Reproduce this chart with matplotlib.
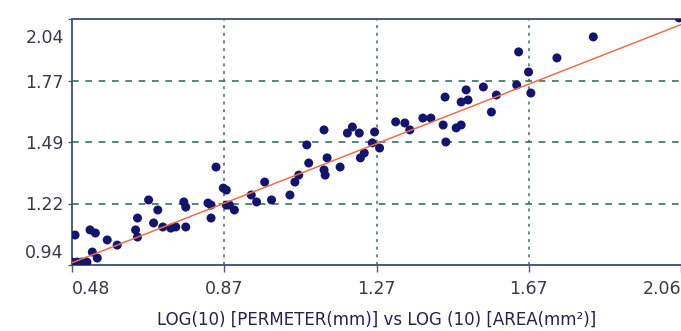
import numpy as np
import matplotlib
matplotlib.use("Agg")
import matplotlib.pyplot as plt
from matplotlib.transforms import ScaledTranslation

# ---- data ----
x_vals = [0.475, 0.488, 0.501, 0.514, 0.483, 0.522, 0.536, 0.528, 0.541, 0.567,
          0.593, 0.646, 0.641, 0.646, 0.675, 0.699, 0.688, 0.712, 0.733, 0.746,
          0.772, 0.767, 0.772, 0.830, 0.838, 0.851, 0.870, 0.878, 0.838, 0.886,
          0.899, 0.878, 0.943, 0.957, 0.978, 0.996, 1.044, 1.057, 1.067, 1.093,
          1.088, 1.133, 1.136, 1.141, 1.175, 1.228, 1.238, 1.278, 1.259, 1.133,
          1.207, 1.194, 1.225, 1.265, 1.320, 1.344, 1.357, 1.391, 1.412, 1.444,
          1.449, 1.451, 1.478, 1.491, 1.491, 1.509, 1.504, 1.549, 1.583, 1.570,
          1.641, 1.667, 1.636, 1.673, 1.741, 1.836, 2.060]
y_vals = [0.958, 0.958, 0.958, 0.958, 1.079, 1.102, 1.088, 1.003, 0.976, 1.057,
          1.034, 1.155, 1.102, 1.070, 1.236, 1.191, 1.133, 1.115, 1.110, 1.115,
          1.115, 1.227, 1.204, 1.222, 1.155, 1.383, 1.289, 1.213, 1.213, 1.213,
          1.191, 1.280, 1.258, 1.227, 1.316, 1.236, 1.258, 1.316, 1.347, 1.401,
          1.482, 1.370, 1.347, 1.424, 1.383, 1.424, 1.446, 1.468, 1.491, 1.549,
          1.562, 1.535, 1.535, 1.540, 1.585, 1.580, 1.549, 1.602, 1.602, 1.571,
          1.696, 1.495, 1.558, 1.571, 1.674, 1.683, 1.728, 1.741, 1.705, 1.629,
          1.898, 1.808, 1.750, 1.714, 1.871, 1.965, 2.050]

fit_x = [0.475, 2.065]
fit_y = [0.955, 2.020]

x_ticks = [0.475, 0.8725, 1.27, 1.6675, 2.065]
x_tick_labels = ["0.48", "0.87", "1.27", "1.67", "2.06"]
y_ticks = [0.945, 1.22, 1.495, 1.77, 2.045]
y_tick_labels = ["0.94", "1.22", "1.49", "1.77", "2.04"]

x_label = "LOG(10) [PERMETER(mm)] vs LOG (10) [AREA(mm²)]"

# ---- figure ----
fig = plt.figure(figsize=(6.81, 3.31), dpi=100)
ax = fig.add_axes([72/681, (331-265)/331, (681-72)/681, (265-19)/331])
ax.set_xlim(x_ticks[0], x_ticks[-1])
ax.set_ylim(y_ticks[0], y_ticks[-1])

ax.scatter(x_vals, y_vals, s=42, color="#14146b", zorder=3, clip_on=True,
           edgecolors="none")
ax.plot(fit_x, fit_y, color="#e8704a", lw=1.1, zorder=4)

# grid on interior ticks
for xv in x_ticks[1:-1]:
    ax.axvline(xv, color="#4a6a6a", lw=1.1, dashes=(2, 3), zorder=1)
for yv in y_ticks[1:-1]:
    ax.axhline(yv, color="#3a7060", lw=1.2, dashes=(4, 4), zorder=1)

spine_col = "#50587a"
for side in ["left", "bottom", "top"]:
    ax.spines[side].set_color(spine_col)
    ax.spines[side].set_linewidth(1.4)
ax.spines["right"].set_visible(False)

ax.set_xticks(x_ticks)
ax.set_xticklabels(x_tick_labels)
ax.set_yticks(y_ticks)
ax.set_yticklabels(y_tick_labels)
ax.tick_params(axis="x", length=5, width=1, color=spine_col, pad=6,
               labelsize=12.5, labelcolor="#3a3a4a")
ax.tick_params(axis="y", length=3, width=1, color=spine_col, pad=3,
               labelsize=12.5, labelcolor="#3a3a4a")

xl = ax.get_xticklabels()
xl[0].set_ha("left")
xl[-1].set_ha("right")
yl = ax.get_yticklabels()
yl[0].set_va("bottom")
yl[-1].set_va("top")
yl[-1].set_transform(yl[-1].get_transform() +
                     ScaledTranslation(0, -10/100, fig.dpi_scale_trans))
yl[0].set_transform(yl[0].get_transform() +
                    ScaledTranslation(0, 3/100, fig.dpi_scale_trans))

ax.set_xlabel(x_label, fontsize=12, color="#24244a", labelpad=9)

fig.savefig("out.png", dpi=100, facecolor="white")
